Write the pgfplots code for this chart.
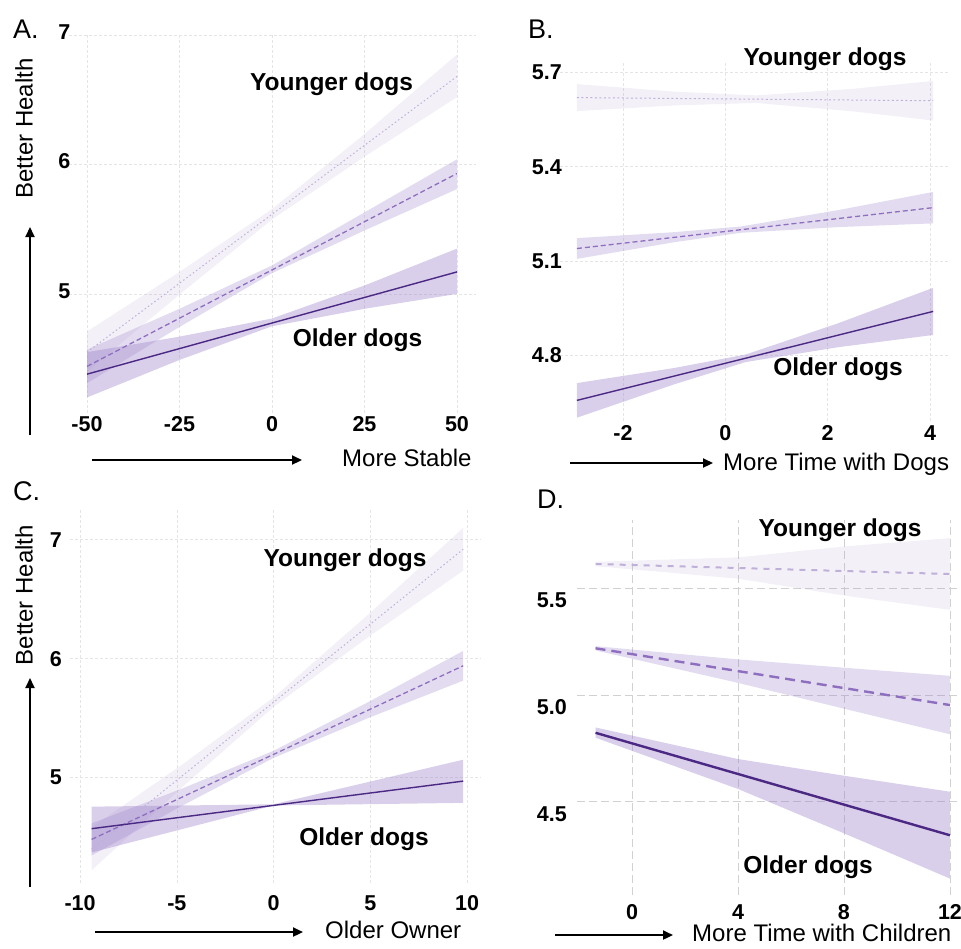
\documentclass[border=0pt]{standalone}
\usepackage{fontspec}
\setmainfont{Liberation Sans}
\usepackage{pgfplots}
\pgfplotsset{compat=1.18}
\usetikzlibrary{arrows.meta}
\definecolor{cOld}{HTML}{4A2883}
\definecolor{cMid}{HTML}{8E6EBE}
\definecolor{cYng}{HTML}{BFB0D8}
\definecolor{rib}{HTML}{9B80C8}
\newcommand{\tfont}{\bfseries\fontsize{21.5}{23}\selectfont}
\pgfplotsset{
  panel/.style={scale only axis, anchor=north west,
    axis line style={draw=none}, major tick style={draw=none},
    grid=major, major grid style={color=black!10, line width=0.6pt, dash pattern=on 3pt off 2pt},
    xticklabel style={font=\tfont, inner sep=0pt, anchor=north},
    yticklabel style={font=\tfont, inner sep=0pt, anchor=east}},
  ribO/.style={draw=none, fill=rib, fill opacity=0.38},
  ribM/.style={draw=none, fill=rib, fill opacity=0.28},
  ribY/.style={draw=none, fill=rib, fill opacity=0.12},
}
\newcommand{\ann}{\bfseries\fontsize{24.5}{26}\selectfont}
\newcommand{\lab}{\fontsize{24}{26}\selectfont}
\begin{document}
\begin{tikzpicture}[x=1pt,y=1pt]
% ---------------- A ----------------
\begin{axis}[panel, at={(68.5pt,-35pt)}, width=407pt, height=378pt,
  xmin=-55, xmax=55, ymin=4.08, ymax=7,
  xtick={-50,-25,0,25,50}, xticklabels={-50,-25,0,25,50},
  ytick={5,6,7}, yticklabels={5,6,7},
  xticklabel style={yshift=-3pt}, yticklabel style={xshift=2pt, yshift=3pt}]
\addplot[ribY] coordinates {(-50,4.71)(-25,5.17)(0,5.655)(25,6.235)(50,6.85)(50,6.52)(25,6.06)(0,5.575)(-25,4.995)(-50,4.40)};
\addplot[ribM] coordinates {(-50,4.57)(-25,4.885)(0,5.22)(25,5.63)(50,6.04)(50,5.81)(25,5.49)(0,5.16)(-25,4.745)(-50,4.31)};
\addplot[ribO] coordinates {(-50,4.55)(-25,4.67)(0,4.81)(25,5.065)(50,5.35)(50,5.00)(25,4.885)(0,4.75)(-25,4.49)(-50,4.20)};
\addplot[cYng, line width=1pt, dash pattern=on 1.5pt off 2.5pt] coordinates {(-50,4.55)(50,6.68)};
\addplot[cMid, line width=1.3pt, dash pattern=on 5pt off 3pt] coordinates {(-50,4.44)(50,5.93)};
\addplot[cOld, line width=1.4pt] coordinates {(-50,4.38)(50,5.17)};
\end{axis}
% ---------------- B ----------------
\begin{axis}[panel, at={(560pt,-63pt)}, width=388pt, height=357.5pt,
  xmin=-3.23, xmax=4.35, ymin=4.593, ymax=5.73,
  xtick={-2,0,2,4}, xticklabels={-2,0,2,4},
  ytick={4.8,5.1,5.4,5.7}, yticklabels={4.8,5.1,5.4,5.7},
  xticklabel style={yshift=-5pt}, yticklabel style={xshift=2pt}]
\addplot[ribY] coordinates {(-2.9,5.663)(-1,5.639)(0.6,5.627)(2.5,5.648)(4.06,5.673)(4.06,5.547)(2.5,5.576)(0.6,5.603)(-1,5.595)(-2.9,5.577)};
\addplot[ribM] coordinates {(-2.9,5.173)(-1,5.192)(0.3,5.21)(2.2,5.262)(4.06,5.32)(4.06,5.22)(2.2,5.208)(0.3,5.19)(-1,5.16)(-2.9,5.107)};
\addplot[ribO] coordinates {(-2.9,4.712)(-1,4.760)(0.4,4.803)(2.2,4.902)(4.06,5.015)(4.06,4.865)(2.2,4.826)(0.4,4.779)(-1,4.708)(-2.9,4.602)};
\addplot[cYng, line width=1pt, dash pattern=on 2pt off 2.5pt] coordinates {(-2.9,5.620)(4.06,5.610)};
\addplot[cMid, line width=1.3pt, dash pattern=on 5pt off 3pt] coordinates {(-2.9,5.14)(4.06,5.27)};
\addplot[cOld, line width=1.4pt] coordinates {(-2.9,4.657)(4.06,4.94)};
\end{axis}
% ---------------- C ----------------
\begin{axis}[panel, at={(70pt,-510pt)}, width=410.6pt, height=373pt,
  xmin=-10.52, xmax=10.7, ymin=4.113, ymax=7.25,
  xtick={-10,-5,0,5,10}, xticklabels={-10,-5,0,5,10},
  ytick={5,6,7}, yticklabels={5,6,7},
  xticklabel style={yshift=-12.5pt}, yticklabel style={xshift=-8pt}]
\addplot[ribY] coordinates {(-9.4,4.58)(-4.7,5.112)(0,5.674)(4.9,6.372)(9.8,7.10)(9.8,6.74)(4.9,6.182)(0,5.594)(-4.7,4.922)(-9.4,4.22)};
\addplot[ribM] coordinates {(-9.4,4.615)(-4.7,4.909)(0,5.225)(4.9,5.635)(9.8,6.065)(9.8,5.815)(4.9,5.501)(0,5.165)(-4.7,4.765)(-9.4,4.345)};
\addplot[ribO] coordinates {(-9.4,4.755)(0,4.775)(9.8,5.15)(9.8,4.787)(0,4.765)(-9.4,4.37)};
\addplot[cYng, line width=1pt, dash pattern=on 1.5pt off 2.5pt] coordinates {(-9.4,4.40)(9.8,6.92)};
\addplot[cMid, line width=1.3pt, dash pattern=on 5pt off 3pt] coordinates {(-9.4,4.48)(9.8,5.94)};
\addplot[cOld, line width=1.4pt] coordinates {(-9.4,4.57)(9.8,4.97)};
\end{axis}
% ---------------- D ----------------
\begin{axis}[panel, at={(577pt,-520pt)}, width=391.5pt, height=375pt,
  xmin=-2.075, xmax=12.7, ymin=4.063, ymax=5.82,
  xtick={0,4,8,12}, xticklabels={0,4,8,12},
  ytick={4.5,5,5.5}, yticklabels={4.5,5.0,5.5},
  major grid style={color=black!18, line width=0.9pt, dash pattern=on 8pt off 4pt},
  xticklabel style={yshift=-9.5pt}, yticklabel style={xshift=-10pt, yshift=-12pt}]
\addplot[ribY] coordinates {(-1.375,5.624)(4,5.645)(8,5.696)(12,5.735)(12,5.399)(8,5.466)(4,5.545)(-1.375,5.604)};
\addplot[ribM] coordinates {(-1.375,5.229)(4,5.167)(8,5.128)(12,5.09)(12,4.816)(8,4.936)(4,5.057)(-1.375,5.209)};
\addplot[ribO] coordinates {(-1.375,4.848)(4,4.70)(8,4.622)(12,4.547)(12,4.14)(8,4.352)(4,4.56)(-1.375,4.80)};
\addplot[cYng, line width=2pt, dash pattern=on 6pt off 6pt] coordinates {(-1.375,5.614)(12,5.567)};
\addplot[cMid, line width=2.4pt, dash pattern=on 10pt off 6pt] coordinates {(-1.375,5.219)(12,4.953)};
\addplot[cOld, line width=2.4pt] coordinates {(-1.375,4.823)(12,4.343)};
\end{axis}
% ---------------- annotations ----------------
\tikzset{arr/.style={line width=2.2pt, -{Triangle[length=10pt,width=9pt]}}}
% A
\node[anchor=base west, inner sep=0pt, font=\fontsize{27}{29}\selectfont] at (13,-38) {A.};
\node[rotate=90, anchor=base, inner sep=0pt, font=\lab] at (32.6,-128.5) {Better Health};
\draw[arr] (30,-435) -- (30,-227);
\draw[arr] (92,-460) -- (302,-460);
\node[anchor=base west, inner sep=0pt, font=\lab] at (342,-466.6) {More Stable};
\node[anchor=base, inner sep=0pt, font=\ann] at (331.5,-90.8) {Younger dogs};
\node[anchor=base, inner sep=0pt, font=\ann] at (357.5,-346.8) {Older dogs};
% B
\node[anchor=base west, inner sep=0pt, font=\fontsize{27}{29}\selectfont] at (528,-38) {B.};
\draw[arr] (570,-463) -- (713,-463);
\node[anchor=base west, inner sep=0pt, font=\lab] at (723,-470.6) {More Time with Dogs};
\node[anchor=base, inner sep=0pt, font=\ann] at (825,-65.8) {Younger dogs};
\node[anchor=base, inner sep=0pt, font=\ann] at (838,-375.8) {Older dogs};
% C
\node[anchor=base west, inner sep=0pt, font=\fontsize{27}{29}\selectfont] at (13,-500) {C.};
\node[rotate=90, anchor=base, inner sep=0pt, font=\lab] at (32.6,-595) {Better Health};
\draw[arr] (30,-887) -- (30,-678);
\draw[arr] (95,-932) -- (303,-932);
\node[anchor=base west, inner sep=0pt, font=\lab] at (325,-938.6) {Older Owner};
\node[anchor=base, inner sep=0pt, font=\ann] at (345,-566.8) {Younger dogs};
\node[anchor=base, inner sep=0pt, font=\ann] at (364,-845.8) {Older dogs};
% D
\node[anchor=base west, inner sep=0pt, font=\fontsize{27}{29}\selectfont] at (537,-508) {D.};
\draw[arr] (555,-935) -- (673,-935);
\node[anchor=base west, inner sep=0pt, font=\lab] at (692,-941.6) {More Time with Children};
\node[anchor=base, inner sep=0pt, font=\ann] at (840,-536.8) {Younger dogs};
\node[anchor=base, inner sep=0pt, font=\ann] at (808,-873.8) {Older dogs};
\pgfresetboundingbox
\path[use as bounding box] (0,0) rectangle (961,-948);
\end{tikzpicture}
\end{document}
